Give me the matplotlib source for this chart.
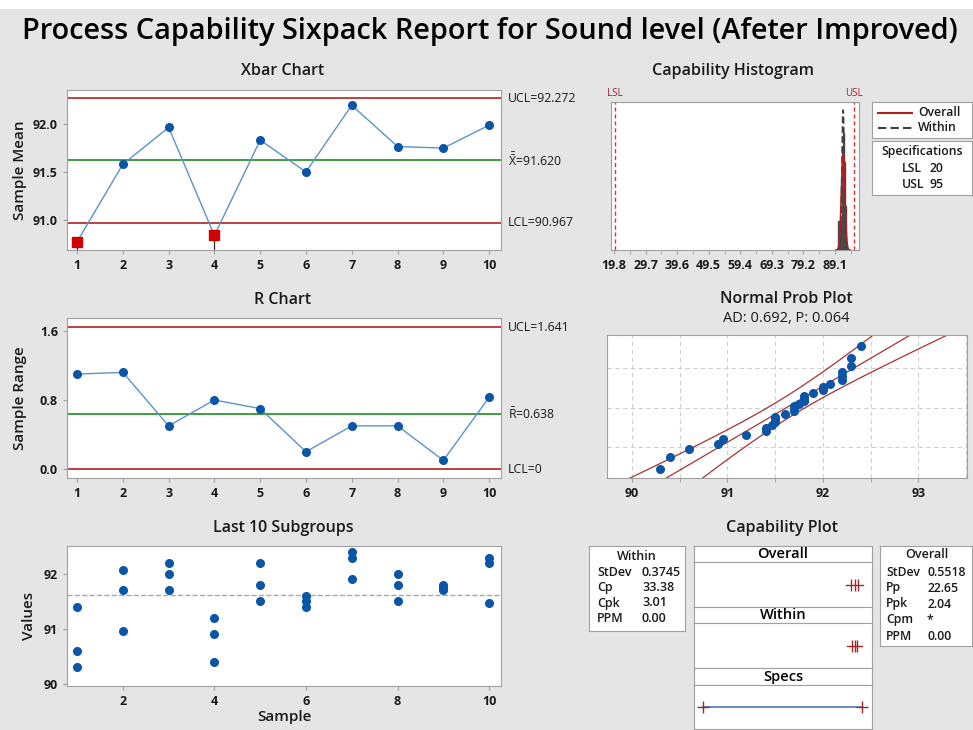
import matplotlib
matplotlib.use('Agg')
import matplotlib.pyplot as plt
import numpy as np
from statistics import NormalDist

plt.rcParams['font.family'] = ['Open Sans', 'DejaVu Sans']

samples = list(range(1, 11))
subgroups = [
    [91.4, 90.6, 90.3],
    [92.08, 91.7, 90.96],
    [92.2, 92.0, 91.7],
    [91.2, 90.9, 90.4],
    [92.2, 91.8, 91.5],
    [91.6, 91.5, 91.4],
    [92.4, 92.3, 91.9],
    [92.0, 91.8, 91.5],
    [91.8, 91.75, 91.7],
    [92.3, 92.2, 91.47],
]
xbar_ucl, xbar_cl, xbar_lcl = 92.272, 91.620, 90.967
r_ucl, r_cl, r_lcl = 1.641, 0.638, 0.0
lsl, usl = 20, 95
within_sd, overall_sd = 0.3745, 0.5518
within_stats = [('StDev', '0.3745'), ('Cp', '33.38'), ('Cpk', '3.01'), ('PPM', '0.00')]
overall_stats = [('StDev', '0.5518'), ('Pp', '22.65'), ('Ppk', '2.04'), ('Cpm', '*'), ('PPM', '0.00')]
ad_text = 'AD: 0.692, P: 0.064'
hist_ticks = [19.8, 29.7, 39.6, 49.5, 59.4, 69.3, 79.2, 89.1]

title = 'Process Capability Sixpack Report for Sound level (Afeter Improved)'

# colours
BG = '#e5e5e5'
BLUE = '#0b55a8'
LBLUE = '#5b93cc'
RED = '#b02020'
GREEN = '#1e8c1e'
SPINE = '#a0a0a0'
TXT = '#1a1a1a'

W, H = 973, 730
fig = plt.figure(figsize=(W / 100, H / 100), dpi=100, facecolor=BG)


def px_axes(l, t, r, b):
    return fig.add_axes([l / W, 1 - b / H, (r - l) / W, (b - t) / H])


def ftext(x, y, s, **kw):
    kw.setdefault('ha', 'center')
    kw.setdefault('va', 'center')
    kw.setdefault('color', TXT)
    return fig.text(x / W, 1 - y / H, s, **kw)


def style(ax):
    for sp in ax.spines.values():
        sp.set_color(SPINE)
    ax.tick_params(colors=SPINE, labelcolor=TXT, labelsize=9, length=3)
    plt.setp(ax.get_xticklabels() + ax.get_yticklabels(), fontweight='bold')


def boxed(ax):
    ax.set_xticks([])
    ax.set_yticks([])
    ax.set_xlim(0, 1)
    ax.set_ylim(0, 1)
    for sp in ax.spines.values():
        sp.set_color(SPINE)


# white strip at the very top
fig.patches.append(plt.Rectangle((0, 1 - 9 / H), 1, 9 / H, transform=fig.transFigure,
                                 facecolor='white', edgecolor='none'))
ftext(490, 31, title, fontsize=20.8, fontweight='semibold', color='black')

means = np.array([np.mean(g) for g in subgroups])
ranges = np.array([np.max(g) - np.min(g) for g in subgroups])

# ---- Xbar chart ----
ax = px_axes(67, 90, 501, 250)
ax.axhline(xbar_ucl, color=RED, lw=1.2)
ax.axhline(xbar_lcl, color=RED, lw=1.2)
ax.axhline(xbar_cl, color=GREEN, lw=1.2)
ax.plot(samples, means, color=LBLUE, lw=1, marker='o', ms=5.5, mfc=BLUE, mec=BLUE)
bad = means < xbar_lcl
for xs, ys in zip(np.array(samples)[bad], means[bad]):
    ax.plot([xs, xs], [ys, 90.68], color='#502020', lw=0.9)
ax.plot(np.array(samples)[bad], means[bad], ls='none', marker='s', ms=7.5, mfc='#d00000', mec='#d00000')
ax.set_xlim(0.78, 10.26)
ax.set_ylim(90.68, 92.36)
ax.set_xticks(samples)
ax.set_yticks([91.0, 91.5, 92.0])
ax.set_yticklabels(['91.0', '91.5', '92.0'])
style(ax)
tr = ax.get_yaxis_transform()
ax.text(1.016, xbar_ucl, f'UCL={xbar_ucl:.3f}', transform=tr, fontsize=8.8, va='center', color=TXT)
ax.text(1.016, xbar_cl, r'$\mathregular{\bar{\bar{X}}}$' + f'={xbar_cl:.3f}', transform=tr,
        fontsize=8.8, va='center', color=TXT)
ax.text(1.016, xbar_lcl, f'LCL={xbar_lcl:.3f}', transform=tr, fontsize=8.8, va='center', color=TXT)
ftext(283, 71, 'Xbar Chart', fontsize=11.5, fontweight='semibold')
ftext(20, 170, 'Sample Mean', fontsize=11, rotation=90, fontweight='semibold')

# ---- R chart ----
ax = px_axes(67, 318, 501, 478)
ax.axhline(r_ucl, color=RED, lw=1.2)
ax.axhline(r_lcl, color=RED, lw=1.2)
ax.axhline(r_cl, color=GREEN, lw=1.2)
ax.plot(samples, ranges, color=LBLUE, lw=1, marker='o', ms=5.5, mfc=BLUE, mec=BLUE)
ax.set_xlim(0.78, 10.26)
ax.set_ylim(-0.104, 1.75)
ax.set_xticks(samples)
ax.set_yticks([0.0, 0.8, 1.6])
ax.set_yticklabels(['0.0', '0.8', '1.6'])
style(ax)
tr = ax.get_yaxis_transform()
ax.text(1.016, r_ucl, f'UCL={r_ucl:.3f}', transform=tr, fontsize=8.8, va='center', color=TXT)
ax.text(1.016, r_cl, r'$\mathregular{\bar{R}}$' + f'={r_cl:.3f}', transform=tr,
        fontsize=8.8, va='center', color=TXT)
ax.text(1.016, r_lcl, 'LCL=0', transform=tr, fontsize=8.8, va='center', color=TXT)
ftext(283, 300, 'R Chart', fontsize=11.5, fontweight='semibold')
ftext(20, 398, 'Sample Range', fontsize=11, rotation=90, fontweight='semibold')

# ---- Last 10 subgroups ----
ax = px_axes(67, 546, 501, 686)
ax.axhline(xbar_cl, color='#a8a8a8', lw=1, ls='--')
for xs, g in zip(samples, subgroups):
    ax.plot([xs] * len(g), g, ls='none', marker='o', ms=5.5, mfc=BLUE, mec=BLUE)
ax.set_xlim(0.78, 10.26)
ax.set_ylim(89.96, 92.51)
ax.set_xticks([2, 4, 6, 8, 10])
ax.set_yticks([90, 91, 92])
style(ax)
ftext(283, 528, 'Last 10 Subgroups', fontsize=11.5, fontweight='semibold')
ftext(284, 717, 'Sample', fontsize=11, fontweight='semibold')
ftext(29, 616, 'Values', fontsize=11, rotation=90, fontweight='semibold')

# ---- Capability histogram ----
allv = np.concatenate(subgroups)
ax = px_axes(611, 102, 859, 250)
ax.hist(allv, bins=np.arange(90.15, 92.6, 0.3), density=True, color='#4a4a4a', edgecolor='#4a4a4a')
xx = np.linspace(xbar_cl - 4 * overall_sd, xbar_cl + 4 * overall_sd, 300)
ax.plot(xx, [NormalDist(xbar_cl, within_sd).pdf(v) for v in xx], color='#404040', lw=1.2, ls=(0, (4, 2)))
ax.plot(xx, [NormalDist(xbar_cl, overall_sd).pdf(v) for v in xx], color=RED, lw=1.2)
ax.axvline(lsl, color='#e03030', lw=1, ls=(0, (3, 2)))
ax.axvline(usl, color='#e03030', lw=1, ls=(0, (3, 2)))
ax.set_xlim(18.86, 96.6)
ax.set_ylim(0, 1.126)
ax.set_yticks([])
ax.set_xticks(hist_ticks)
ax.set_xticklabels([f'{v:.1f}' for v in hist_ticks])
ax.set_xticks(np.array(hist_ticks) + 4.95, minor=True)
style(ax)
ax.tick_params(which='minor', colors=SPINE, length=3)
ftext(733, 71, 'Capability Histogram', fontsize=11.5, fontweight='semibold')
ftext(615, 94, 'LSL', fontsize=7, color='#a02030')
ftext(854, 94, 'USL', fontsize=7, color='#a02030')

# legend boxes
lg = px_axes(872, 102, 972, 138)
boxed(lg)
lg.plot([0.06, 0.4], [0.7, 0.7], color=RED, lw=1.5)
lg.plot([0.06, 0.4], [0.28, 0.28], color='#404040', lw=1.5, ls=(0, (4, 2)))
lg.text(0.46, 0.7, 'Overall', fontsize=8.8, va='center', fontweight='semibold', color=TXT)
lg.text(0.46, 0.28, 'Within', fontsize=8.8, va='center', fontweight='semibold', color=TXT)
sp = px_axes(872, 141, 972, 195)
boxed(sp)
sp.text(0.5, 0.8, 'Specifications', fontsize=8.8, ha='center', va='center', fontweight='semibold', color=TXT)
sp.text(0.3, 0.5, 'LSL', fontsize=8.8, va='center', fontweight='semibold', color=TXT)
sp.text(0.57, 0.5, str(lsl), fontsize=8.8, va='center', fontweight='semibold', color=TXT)
sp.text(0.3, 0.2, 'USL', fontsize=8.8, va='center', fontweight='semibold', color=TXT)
sp.text(0.57, 0.2, str(usl), fontsize=8.8, va='center', fontweight='semibold', color=TXT)

# ---- Normal probability plot ----
ax = px_axes(607, 335, 967, 478)
vals = np.sort(allv)
n = len(vals)
nd = NormalDist()
zq = np.array([nd.inv_cdf((i - 0.3) / (n + 0.4)) for i in range(1, n + 1)])
for gx in np.arange(90, 93.6, 0.5):
    ax.axvline(gx, color='#d0d0d0', lw=0.8, ls=(0, (4, 3)))
for gy in [nd.inv_cdf(0.1), 0, nd.inv_cdf(0.9)]:
    ax.axhline(gy, color='#d0d0d0', lw=0.8, ls=(0, (4, 3)))
zz = np.linspace(-3, 3, 200)
fit = xbar_cl + overall_sd * zz
half = 1.96 * overall_sd * np.sqrt(1 / n + zz ** 2 / (2 * (n - 1)))
for line in (fit, fit - half, fit + half):
    ax.plot(line, zz, color='#a83232', lw=0.9)
ax.plot(vals, zq, ls='none', marker='o', ms=5.5, mfc=BLUE, mec=BLUE)
ax.set_xlim(89.74, 93.51)
ax.set_ylim(-2.28, 2.35)
ax.set_yticks([])
ax.set_xticks([90, 91, 92, 93])
ax.set_xticks([90.5, 91.5, 92.5], minor=True)
style(ax)
ax.tick_params(which='minor', colors=SPINE, length=3)
ftext(786, 299, 'Normal Prob Plot', fontsize=11.5, fontweight='semibold')
ftext(786, 318, ad_text, fontsize=10.5)

# ---- Capability plot ----
ftext(782, 528, 'Capability Plot', fontsize=11.5, fontweight='semibold')

tb = px_axes(589, 546, 685, 631)
boxed(tb)
tb.text(0.5, 1 - 10 / 85, 'Within', fontsize=9, ha='center', va='center', fontweight='semibold', color=TXT)
for k, (lab, val) in enumerate(within_stats):
    yy = 1 - (26 + 15.5 * k) / 85
    tb.text(8 / 96, yy, lab, fontsize=9, va='center', fontweight='semibold', color=TXT)
    tb.text(53 / 96, yy, val, fontsize=9, va='center', fontweight='semibold', color=TXT)

tb = px_axes(880, 546, 972, 646)
boxed(tb)
tb.text(47 / 92, 1 - 9 / 100, 'Overall', fontsize=9, ha='center', va='center', fontweight='semibold', color=TXT)
for k, (lab, val) in enumerate(overall_stats):
    yy = 1 - (26 + 16 * k) / 100
    tb.text(6 / 92, yy, lab, fontsize=8.8, va='center', fontweight='semibold', color=TXT)
    tb.text(47 / 92, yy, val, fontsize=8.8, va='center', fontweight='semibold', color=TXT)

rows = [('Overall', 546, 562, 607), ('Within', 607, 623, 668), ('Specs', 668, 685, 729)]
for name, t0, t1, t2 in rows:
    hd = px_axes(694, t0, 872, t1)
    boxed(hd)
    hd.text(0.5, 0.5, name, fontsize=10.5, ha='center', va='center', fontweight='semibold', color='black')
    pa = px_axes(694, t1, 872, t2)
    boxed(pa)
    pa.set_xlim(15.6, 99.9)
    pa.set_ylim(-1, 1)
    if name == 'Specs':
        pa.plot([lsl, usl], [0, 0], color='#4a78b8', lw=1.2)
        pa.plot([lsl, usl], [0, 0], ls='none', marker='+', ms=9, mew=1, color='#a02828')
    else:
        sd = overall_sd if name == 'Overall' else within_sd
        pts = [xbar_cl - 3 * sd, xbar_cl, xbar_cl + 3 * sd]
        pa.plot([pts[0] - 2.5, pts[2] + 2.5], [0, 0], color='#a02828', lw=1)
        pa.plot(pts, [0, 0, 0], ls='none', marker='|', ms=9, mew=1, color='#a02828')

fig.savefig('out.png', dpi=100, facecolor=BG)
